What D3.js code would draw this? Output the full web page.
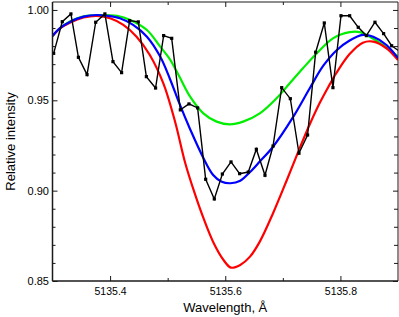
<!DOCTYPE html>
<html>
<head>
<meta charset="utf-8">
<script src="https://cdn.jsdelivr.net/npm/d3@7"></script>
<style>
  html, body { margin: 0; padding: 0; background: #fff; }
  svg { display: block; font-family: "Liberation Sans", Arial, sans-serif; }
</style>
</head>
<body>
<svg id="chart" width="399" height="317"></svg>
<script>
// ---- Data ----
const xTicks = [5135.4, 5135.6, 5135.8];
const xMinorTicks = [5135.5, 5135.7];
const yTicks = [0.85, 0.90, 0.95, 1.00];
const yMinorTicks = [0.86, 0.87, 0.88, 0.89, 0.91, 0.92, 0.93, 0.94, 0.96, 0.97, 0.98, 0.99];

const obsWavelength = [5135.302, 5135.317, 5135.332, 5135.345, 5135.360, 5135.375, 5135.391, 5135.405,
  5135.420, 5135.434, 5135.449, 5135.463, 5135.479, 5135.493, 5135.507, 5135.522, 5135.537, 5135.552,
  5135.566, 5135.581, 5135.595, 5135.610, 5135.625, 5135.640, 5135.654, 5135.669, 5135.683, 5135.698,
  5135.713, 5135.728, 5135.743, 5135.757, 5135.772, 5135.787, 5135.801, 5135.816, 5135.831, 5135.845,
  5135.860, 5135.875, 5135.889, 5135.904];
const obsIntensity = [0.9760, 0.9935, 0.9978, 0.9738, 0.9642, 0.9932, 0.9978, 0.9714,
  0.9653, 0.9941, 0.9934, 0.9631, 0.9568, 0.9858, 0.9843, 0.9447, 0.9480, 0.9458,
  0.9063, 0.8954, 0.9092, 0.9159, 0.9094, 0.9103, 0.9229, 0.9085, 0.9247, 0.9570,
  0.9509, 0.9207, 0.9308, 0.9766, 0.9928, 0.9570, 0.9968, 0.9968, 0.9904, 0.9858,
  0.9932, 0.9869, 0.9802, 0.9768];

const greenWavelength = [5135.300, 5135.313, 5135.331, 5135.354, 5135.383, 5135.412, 5135.435, 5135.464,
  5135.487, 5135.504, 5135.521, 5135.539, 5135.562, 5135.585, 5135.608, 5135.631, 5135.660, 5135.689,
  5135.712, 5135.735, 5135.759, 5135.787, 5135.816, 5135.834, 5135.851, 5135.874, 5135.900];
const greenIntensity = [0.9856, 0.9899, 0.9937, 0.9965, 0.9972, 0.9967, 0.9945, 0.9889,
  0.9797, 0.9727, 0.9627, 0.9520, 0.9428, 0.9382, 0.9367, 0.9382, 0.9428, 0.9511,
  0.9594, 0.9677, 0.9760, 0.9843, 0.9877, 0.9877, 0.9852, 0.9806, 0.9742];

const blueWavelength = [5135.300, 5135.313, 5135.331, 5135.354, 5135.377, 5135.394, 5135.417, 5135.440,
  5135.464, 5135.487, 5135.504, 5135.521, 5135.539, 5135.562, 5135.579, 5135.594, 5135.609, 5135.626,
  5135.643, 5135.660, 5135.683, 5135.718, 5135.747, 5135.770, 5135.793, 5135.816, 5135.839, 5135.857,
  5135.880, 5135.900];
const blueIntensity = [0.9856, 0.9899, 0.9935, 0.9963, 0.9972, 0.9968, 0.9954, 0.9917,
  0.9852, 0.9742, 0.9618, 0.9477, 0.9340, 0.9181, 0.9087, 0.9049, 0.9041, 0.9055,
  0.9103, 0.9161, 0.9243, 0.9408, 0.9568, 0.9690, 0.9776, 0.9831, 0.9862, 0.9852,
  0.9806, 0.9733];

const redWavelength = [5135.300, 5135.313, 5135.331, 5135.354, 5135.377, 5135.400, 5135.423, 5135.446,
  5135.469, 5135.493, 5135.513, 5135.530, 5135.545, 5135.562, 5135.579, 5135.597, 5135.610, 5135.626,
  5135.643, 5135.660, 5135.683, 5135.707, 5135.730, 5135.747, 5135.764, 5135.779, 5135.793, 5135.816,
  5135.839, 5135.857, 5135.880, 5135.900];
const redIntensity = [0.9856, 0.9898, 0.9931, 0.9958, 0.9967, 0.9954, 0.9917, 0.9852,
  0.9751, 0.9590, 0.9380, 0.9159, 0.9004, 0.8849, 0.8716, 0.8616, 0.8574, 0.8589,
  0.8635, 0.8718, 0.8875, 0.9059, 0.9241, 0.9369, 0.9485, 0.9574, 0.9651, 0.9756,
  0.9819, 0.9825, 0.9788, 0.9723];

// ---- Layout ----
const svg = d3.select("#chart");
const pL = 52.5, pR = 398, pT = 2, pB = 281;
const x = d3.scaleLinear().domain([5135.3, 5135.9]).range([pL, pR]);
const y = d3.scaleLinear().domain([0.85, 1.0044]).range([pB, pT]);

svg.append("defs").append("clipPath").attr("id", "clip")
  .append("rect").attr("x", pL).attr("y", pT).attr("width", pR - pL).attr("height", pB - pT);

const plot = svg.append("g").attr("clip-path", "url(#clip)");

function series(wl, val) { return wl.map((w, i) => [w, val[i]]); }
const curveLine = d3.line().x(d => x(d[0])).y(d => y(d[1])).curve(d3.curveCatmullRom.alpha(0.5));

plot.append("path").datum(series(greenWavelength, greenIntensity))
  .attr("d", curveLine).attr("fill", "none").attr("stroke", "#00ee00").attr("stroke-width", 2.2);
plot.append("path").datum(series(redWavelength, redIntensity))
  .attr("d", curveLine).attr("fill", "none").attr("stroke", "#ff0000").attr("stroke-width", 2.2);
plot.append("path").datum(series(blueWavelength, blueIntensity))
  .attr("d", curveLine).attr("fill", "none").attr("stroke", "#0000ff").attr("stroke-width", 2.2);

const obs = series(obsWavelength, obsIntensity);
const straightLine = d3.line().x(d => x(d[0])).y(d => y(d[1]));
plot.append("path").datum(obs).attr("d", straightLine).attr("fill", "none")
  .attr("stroke", "#000").attr("stroke-width", 1.4);
plot.selectAll("rect.m").data(obs).join("rect").attr("class", "m")
  .attr("x", d => x(d[0]) - 1.6).attr("y", d => y(d[1]) - 1.6)
  .attr("width", 3.2).attr("height", 3.2).attr("fill", "#000");

// ---- Axes ----
const axColor = "#1a1a1a";
function styleAxis(g) {
  g.select(".domain").remove();
  g.selectAll(".tick line").attr("stroke", axColor).attr("stroke-width", 1);
  g.selectAll("text").attr("fill", "#000");
}

const gB = svg.append("g").attr("transform", `translate(0,${pB})`)
  .call(d3.axisBottom(x).tickValues(xTicks).tickFormat(d3.format(".1f")).tickSizeInner(-5).tickSizeOuter(0).tickPadding(7));
styleAxis(gB); gB.selectAll("text").style("font-size", "10.5px");
const gBm = svg.append("g").attr("transform", `translate(0,${pB})`)
  .call(d3.axisBottom(x).tickValues(xMinorTicks).tickFormat("").tickSizeInner(-3).tickSizeOuter(0));
styleAxis(gBm);

const gT = svg.append("g").attr("transform", `translate(0,${pT})`)
  .call(d3.axisTop(x).tickValues(xTicks).tickFormat("").tickSizeInner(-5).tickSizeOuter(0));
styleAxis(gT);
const gTm = svg.append("g").attr("transform", `translate(0,${pT})`)
  .call(d3.axisTop(x).tickValues(xMinorTicks).tickFormat("").tickSizeInner(-3).tickSizeOuter(0));
styleAxis(gTm);

const gL = svg.append("g").attr("transform", `translate(${pL},0)`)
  .call(d3.axisLeft(y).tickValues(yTicks).tickFormat(d3.format(".2f")).tickSizeInner(-5).tickSizeOuter(0).tickPadding(3.5));
styleAxis(gL); gL.selectAll("text").style("font-size", "11px");
const gLm = svg.append("g").attr("transform", `translate(${pL},0)`)
  .call(d3.axisLeft(y).tickValues(yMinorTicks).tickFormat("").tickSizeInner(-3).tickSizeOuter(0));
styleAxis(gLm);

const gR = svg.append("g").attr("transform", `translate(${pR},0)`)
  .call(d3.axisRight(y).tickValues(yTicks).tickFormat("").tickSizeInner(-5).tickSizeOuter(0));
styleAxis(gR);
const gRm = svg.append("g").attr("transform", `translate(${pR},0)`)
  .call(d3.axisRight(y).tickValues(yMinorTicks).tickFormat("").tickSizeInner(-4).tickSizeOuter(0));
styleAxis(gRm);

// frame
svg.append("line").attr("x1", pL).attr("x2", pL).attr("y1", pT).attr("y2", pB)
  .attr("stroke", axColor).attr("stroke-width", 1.5);
svg.append("line").attr("x1", pL).attr("x2", pR).attr("y1", pB).attr("y2", pB)
  .attr("stroke", axColor).attr("stroke-width", 1.5);
svg.append("line").attr("x1", pL).attr("x2", pR).attr("y1", pT).attr("y2", pT)
  .attr("stroke", axColor).attr("stroke-width", 1);
svg.append("line").attr("x1", pR).attr("x2", pR).attr("y1", pT).attr("y2", pB)
  .attr("stroke", axColor).attr("stroke-width", 1);

// titles
svg.append("text").attr("x", (pL + pR) / 2).attr("y", 312).attr("text-anchor", "middle")
  .style("font-size", "13px").text("Wavelength, Å");
svg.append("text").attr("transform", `translate(15,${(pT + pB) / 2}) rotate(-90)`)
  .attr("text-anchor", "middle").style("font-size", "13px").text("Relative intensity");
</script>
</body>
</html>
